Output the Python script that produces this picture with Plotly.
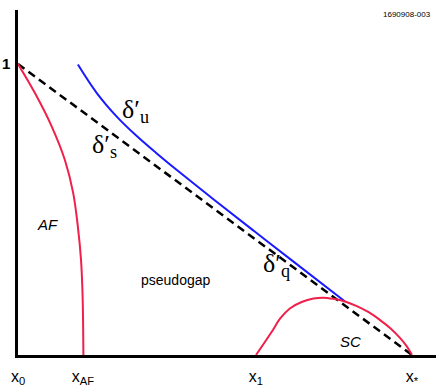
import plotly.graph_objects as go

# doping axis: x0 = 0, x* = 1 ; vertical axis normalised to 1
tick_x = [0.0, 0.165, 0.604, 1.0]
tick_x_text = ["x<sub>0</sub>", "x<sub>AF</sub>", "x<sub>1</sub>", "x<sub>*</sub>"]
tick_y = [1.0]
tick_y_text = ["<b>1</b>"]

# delta'_s : straight dashed line from (x0, 1) to (x*, 0)
ds_x = [0.0, 1.0]
ds_y = [1.0, 0.0]

# delta'_u (blue)
du_x = [0.152, 0.20, 0.25, 0.30, 0.35, 0.40, 0.50, 0.60, 0.70, 0.83]
du_y = [0.998, 0.900, 0.820, 0.754, 0.695, 0.639, 0.531, 0.425, 0.320, 0.184]

# AF boundary (red)
af_x = [0.0, 0.043, 0.086, 0.119, 0.140, 0.152, 0.160, 0.164, 0.166]
af_y = [1.0, 0.900, 0.784, 0.670, 0.557, 0.440, 0.326, 0.200, 0.0]

# SC dome / delta'_q (red)
sc_x = [0.604, 0.647, 0.665, 0.690, 0.720, 0.750, 0.774, 0.800, 0.830,
        0.860, 0.890, 0.919, 0.945, 0.970, 0.985, 1.0]
sc_y = [0.0, 0.086, 0.125, 0.160, 0.182, 0.194, 0.197, 0.193, 0.184,
        0.168, 0.147, 0.120, 0.092, 0.058, 0.033, 0.0]

RED = "#f0204a"
BLUE = "#1a1aff"

fig = go.Figure()

fig.add_trace(go.Scatter(x=ds_x, y=ds_y, mode="lines",
                         line=dict(color="black", width=2.5, dash="8px,5px"),
                         hoverinfo="skip"))
fig.add_trace(go.Scatter(x=du_x, y=du_y, mode="lines",
                         line=dict(color=BLUE, width=2, shape="spline"),
                         hoverinfo="skip"))
fig.add_trace(go.Scatter(x=af_x, y=af_y, mode="lines",
                         line=dict(color=RED, width=2, shape="spline"),
                         hoverinfo="skip"))
fig.add_trace(go.Scatter(x=sc_x, y=sc_y, mode="lines",
                         line=dict(color=RED, width=2, shape="spline"),
                         hoverinfo="skip"))

serif = "Liberation Serif"
sans = "Liberation Sans"

def label(text, x, y, size, family, italic=False):
    fig.add_annotation(x=x, y=y, xref="x", yref="y", text=text,
                       showarrow=False,
                       font=dict(size=size, family=family, color="black",
                                 style="italic" if italic else "normal"))

label("δ′<sub>u</sub>", 0.297, 0.840, 26, serif)
label("δ′<sub>s</sub>", 0.220, 0.718, 26, serif)
label("δ′<sub>q</sub>", 0.655, 0.309, 26, serif)
label("AF", 0.075, 0.447, 15, sans, italic=True)
label("pseudogap", 0.400, 0.258, 14, sans)
label("SC", 0.843, 0.045, 15, sans, italic=True)

fig.add_annotation(x=0.993, y=0.988, xref="paper", yref="paper",
                   xanchor="right", yanchor="middle",
                   text="1690908-003", showarrow=False,
                   font=dict(size=8, family=sans, color="black"))

fig.update_xaxes(range=[0, 418 / 394], showline=True, linewidth=2.5,
                 linecolor="black", showgrid=False, zeroline=False,
                 tickvals=tick_x, ticktext=tick_x_text, ticks="",
                 ticklabelstandoff=5, automargin=False,
                 tickfont=dict(size=16, family=sans, color="black"))
fig.update_yaxes(range=[0, 345 / 291], showline=True, linewidth=2.5,
                 linecolor="black", showgrid=False, zeroline=False,
                 tickvals=tick_y, ticktext=tick_y_text, ticks="",
                 ticklabelstandoff=2, automargin=False,
                 tickfont=dict(size=15, family=sans, color="black"))

fig.update_layout(width=436, height=388,
                  margin=dict(l=18, r=0, t=10, b=33),
                  paper_bgcolor="white", plot_bgcolor="white",
                  showlegend=False)

fig.write_html("out.html", config={"displayModeBar": False},
               post_script="document.body.style.margin='0';")
